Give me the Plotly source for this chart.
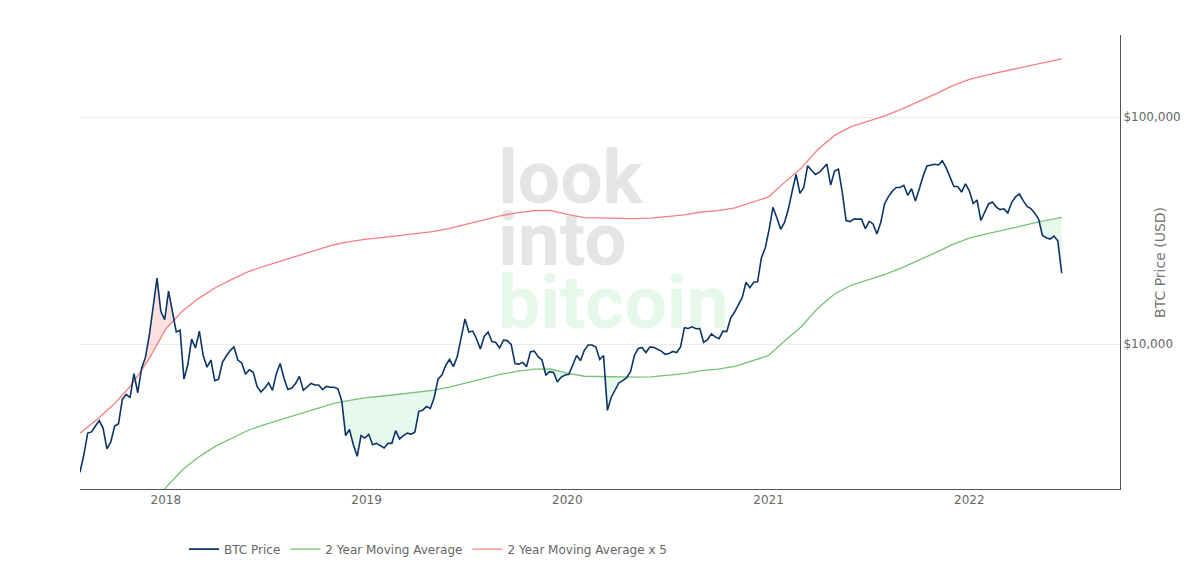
#!/usr/bin/env python3
# btc 2 year MA multiplier chart

import numpy as np
import pandas as pd
import plotly.graph_objects as go

# ───────────────────────────────────────────────────────────────
# DATA
# ───────────────────────────────────────────────────────────────
PRICE_START = "2017-07-29"   # weekly samples from here on

btc_price = [
    # 2017
    2720, 3250, 4050, 4100, 4350, 4600, 4250, 3450, 3700, 4350,
    4450, 5700, 6000, 5800, 7400, 6100, 7800, 8750, 10900, 15000,
    19500, 13900, 12800,
    # 2018
    17100, 13800, 11300, 11500, 7000, 8100, 10500, 9600, 11400, 8900,
    7900, 8500, 6900, 7000, 8300, 8850, 9350, 9700, 8500, 8250,
    7350, 7700, 7500, 6500, 6150, 6400, 6750, 6250, 7400, 8200,
    7050, 6300, 6400, 6700, 7200, 6250, 6500, 6700, 6600, 6600,
    6300, 6500, 6450, 6450, 6350, 5600, 3950, 4200, 3600, 3200,
    3950, 3850,
    # 2019
    4000, 3600, 3650, 3560, 3480, 3650, 3650, 4150, 3820, 3950,
    4050, 4000, 4100, 5050, 5100, 5300, 5200, 5800, 7000, 7300,
    8050, 8550, 7950, 8800, 10700, 12900, 11300, 11400, 10550, 9500,
    10800, 11300, 10250, 10150, 9600, 10400, 10350, 9950, 8200, 8150,
    8300, 7950, 9250, 9300, 8800, 8500, 7300, 7550, 7500, 6800,
    7150, 7300,
    # 2020
    7350, 8050, 8900, 8450, 9380, 9900, 9900, 9700, 8550, 8900,
    5100, 5830, 6250, 6750, 6900, 7100, 7550, 8900, 9550, 9650,
    9170, 9700, 9670, 9460, 9300, 9000, 9080, 9270, 9170, 9700,
    11800, 11700, 11900, 11670, 11700, 10170, 10450, 11080, 10750, 10550,
    11400, 11350, 13000, 13800, 14800, 16000, 18700, 17700, 18700, 18800,
    24000, 26500,
    # 2021
    32000, 40000, 36000, 32000, 34300, 39300, 47200, 55900, 46100, 48900,
    61000, 58300, 55800, 57000, 59800, 62000, 50100, 57800, 58900, 46700,
    35000, 34600, 35500, 35600, 35500, 32200, 34700, 33800, 30500, 34300,
    41500, 44600, 47100, 48900, 48900, 50000, 45200, 48300, 42700, 48200,
    54900, 60900, 61300, 61900, 61500, 64100, 59700, 54700, 49400, 49400,
    46700, 50800,
    # 2022
    47300, 41600, 43100, 35000, 37900, 41400, 42200, 40100, 39100, 39400,
    37800, 42000, 44500, 45800, 42800, 40400, 39500, 37700, 35500, 30100,
    29400, 29000, 29900, 28400, 20500,
]

ma_start = ["2017-07-29"]
ma_end = ["2022-06-18"]
ma_2y = [
    810,
    820, 945, 1100, 1330, 1710,
    2330, 2800, 3170, 3540, 3850, 4180, 4420, 4670, 4920, 5180, 5460, 5650,
    5800, 5900, 6000, 6115, 6250, 6460, 6730, 7050, 7340, 7570, 7745, 7760,
    7450, 7210, 7180, 7170, 7140, 7170, 7270, 7410, 7630, 7745, 7960, 8410,
    8900, 10410, 11880, 14410, 16600, 18190, 19140, 20250, 21720, 23320, 25290, 27420,
    29290, 30590, 31630, 32870, 34280, 35530,
    36100,
]
MA_MULT = 5

tick_vals = [10000, 100000]
tick_text = ["$10,000", "$100,000"]

# ───────────────────────────────────────────────────────────────
# PREP
# ───────────────────────────────────────────────────────────────
price_dates = pd.date_range(PRICE_START, periods=len(btc_price), freq="7D")
ma_dates = (pd.DatetimeIndex(ma_start)
            .append(pd.date_range("2017-08-01", "2022-06-01", freq="MS"))
            .append(pd.DatetimeIndex(ma_end)))

price = np.array(btc_price, dtype=float)
ma = np.array(ma_2y, dtype=float)
ma_x5 = ma * MA_MULT

# MA on the price dates (log-linear, same as the drawn line) for the shaded bands
ma_on_price = 10 ** np.interp(price_dates.asi8, ma_dates.asi8, np.log10(ma))
ma5_on_price = ma_on_price * MA_MULT

NAVY = "#0b3467"
GREEN = "#77c277"
RED = "#f58080"
FONT = "DejaVu Sans"

# ───────────────────────────────────────────────────────────────
# FIGURE
# ───────────────────────────────────────────────────────────────
fig = go.Figure()

# shaded band: price above MA x5
fig.add_trace(go.Scatter(x=price_dates, y=ma5_on_price, mode="lines",
                         line=dict(width=0), hoverinfo="skip", showlegend=False))
fig.add_trace(go.Scatter(x=price_dates, y=np.maximum(price, ma5_on_price), mode="lines",
                         line=dict(width=0), fill="tonexty",
                         fillcolor="rgba(245,90,90,0.18)", hoverinfo="skip",
                         showlegend=False))

# shaded band: price below MA
fig.add_trace(go.Scatter(x=price_dates, y=ma_on_price, mode="lines",
                         line=dict(width=0), hoverinfo="skip", showlegend=False))
fig.add_trace(go.Scatter(x=price_dates, y=np.minimum(price, ma_on_price), mode="lines",
                         line=dict(width=0), fill="tonexty",
                         fillcolor="rgba(60,200,110,0.12)", hoverinfo="skip",
                         showlegend=False))

fig.add_trace(go.Scatter(x=ma_dates, y=ma_x5, mode="lines", name="2 Year Moving Average x 5",
                         line=dict(color=RED, width=1.3), legendrank=3))
fig.add_trace(go.Scatter(x=ma_dates, y=ma, mode="lines", name="2 Year Moving Average",
                         line=dict(color=GREEN, width=1.3), legendrank=2))
fig.add_trace(go.Scatter(x=price_dates, y=price, mode="lines", name="BTC Price",
                         line=dict(color=NAVY, width=1.6), legendrank=1))

# watermark, kept under the traces
for word, colour, yc in [("look", "#e5e5e5", 0.698),
                         ("into", "#e5e5e5", 0.561),
                         ("bitcoin", "#e6f8ea", 0.424)]:
    fig.add_shape(type="rect", xref="paper", yref="paper",
                  x0=0.399, x1=0.9, y0=yc - 0.06, y1=yc + 0.06,
                  line=dict(width=0), fillcolor="rgba(0,0,0,0)", layer="below",
                  label=dict(text=word, textposition="middle left", padding=0,
                             font=dict(family="Roboto", size=75, color=colour, weight=700)))

# y axis title sits over the tick label column, as in the original
fig.add_annotation(text="BTC Price (USD)", xref="paper", yref="paper",
                   x=1.048, y=0.5, textangle=-90, showarrow=False,
                   font=dict(family=FONT, size=14, color="#777"))

# page body keeps an 8px margin, so the figure is sized to fit inside it
fig.update_layout(
    width=1184, height=559,
    margin=dict(l=72, r=72, t=27, b=78),
    paper_bgcolor="white", plot_bgcolor="white",
    font=dict(family=FONT, size=12, color="#666"),
    showlegend=True,
    legend=dict(orientation="h", traceorder="normal",
                x=0.1, xanchor="left", xref="paper",
                y=0.032, yanchor="middle", yref="container",
                font=dict(family=FONT, size=12, color="#666")),
)
fig.update_xaxes(
    range=["2017-07-29", "2022-10-02"],
    showgrid=False, zeroline=False,
    showline=True, linecolor="#555", linewidth=1,
    ticks="", tickformat="%Y", dtick="M12",
    tickfont=dict(family=FONT, size=12, color="#666"),
)
fig.update_yaxes(
    type="log", side="right",
    range=[np.log10(2297), np.log10(229800)],
    tickvals=tick_vals, ticktext=tick_text,
    showgrid=True, gridcolor="#ebebeb", zeroline=False,
    showline=True, linecolor="#555", linewidth=1,
    tickfont=dict(family=FONT, size=12, color="#666"),
)

fig.write_html("out.html")
